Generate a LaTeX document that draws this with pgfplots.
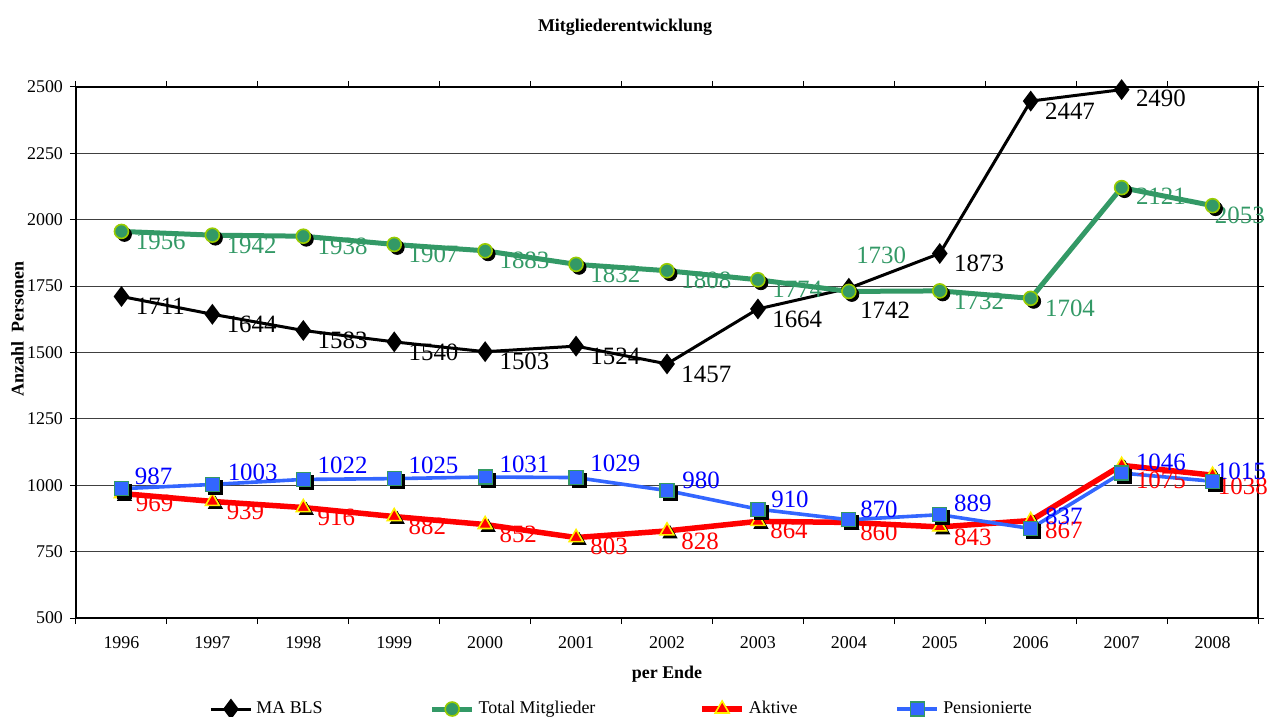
\documentclass[border=0pt]{standalone}
\usepackage{fontspec}
\setmainfont{Liberation Serif}
\usepackage{pgfplots}
\pgfplotsset{compat=1.18}
\definecolor{cgreen}{RGB}{51,153,102}
\definecolor{cyg}{RGB}{153,204,0}
\definecolor{cblue}{RGB}{51,102,255}
\definecolor{tblue}{RGB}{0,0,255}
\newcommand\lbl[6]{\node[anchor=west,text=#1,inner sep=0pt,xshift=#5,yshift=#6,font=\fontsize{12.5}{14}\selectfont] at (axis cs:#2,#3) {#4};}
\begin{document}
\begin{tikzpicture}
\useasboundingbox (-38bp,-49.5bp) rectangle (596bp,309bp);
\begin{axis}[
  at={(0,0)}, anchor=south west,
  scale only axis, width=591bp, height=265.5bp,
  xmin=-0.5, xmax=12.5, ymin=500, ymax=2500,
  xtick={-0.5,0.5,...,12.5},
  x tick label as interval,
  xticklabels={1996,1997,1998,1999,2000,2001,2002,2003,2004,2005,2006,2007,2008},
  ytick={500,750,...,2500},
  tick align=outside, major tick length=3bp,
  tick style={black, line width=0.5bp},
  ymajorgrids, grid style={black!75, line width=0.5bp},
  axis line style={black, line width=0.8bp},
  /pgf/number format/assume math mode=true,
  /pgf/number format/1000 sep={},
  tick label style={font=\fontsize{9}{10}\selectfont},
  xticklabel style={yshift=-3bp},
  title={\textbf{Mitgliederentwicklung}},
  title style={at={(0.4645,1)}, anchor=center, yshift=24bp, font=\fontsize{9}{10}\selectfont},
  xlabel={\textbf{per Ende}},
  xlabel style={at={(0.5,0)}, anchor=center, yshift=-28bp, font=\fontsize{9}{10}\selectfont},
  ylabel={\textbf{Anzahl\ \ Personen}},
  ylabel style={at={(-0.0495,0.544)}, anchor=center, font=\fontsize{9}{10}\selectfont},
  clip=false,
  legend columns=4,
  legend style={at={(0.4625,-0.1714)}, anchor=center, draw=none, fill=none,
    font=\fontsize{9}{10}\selectfont,
    /tikz/column 2/.style={column sep=51.5bp},
    /tikz/column 4/.style={column sep=50bp},
    /tikz/column 6/.style={column sep=47bp}},
  legend image code/.code={\draw[mark repeat=2,mark phase=2,#1] plot coordinates {(0bp,0bp) (10bp,0bp) (20bp,0bp)};},
]
% MA BLS
\addplot[black, line width=1.5bp, mark=diamond*, mark size=4bp, mark options={solid,fill=black}]
 coordinates {(0,1711)(1,1644)(2,1583)(3,1540)(4,1503)(5,1524)(6,1457)(7,1664)(8,1742)(9,1873)(10,2447)(11,2490)};
\addlegendentry{MA BLS}
% Total shadow
\addplot[forget plot, only marks, mark=*, mark size=3.5bp, mark options={black, fill=black, xshift=1.5bp, yshift=-1.5bp}]
 coordinates {(0,1956)(1,1942)(2,1938)(3,1907)(4,1883)(5,1832)(6,1808)(7,1774)(8,1730)(9,1732)(10,1704)(11,2121)(12,2053)};
\addplot[cgreen, line width=2.5bp, mark=*, mark size=3.5bp, mark options={draw=cyg, fill=cgreen, line width=0.8bp}]
 coordinates {(0,1956)(1,1942)(2,1938)(3,1907)(4,1883)(5,1832)(6,1808)(7,1774)(8,1730)(9,1732)(10,1704)(11,2121)(12,2053)};
\addlegendentry{Total Mitglieder}
% Aktive shadow
\addplot[forget plot, only marks, mark=triangle*, mark size=4bp, mark options={black, fill=black, xshift=1.5bp, yshift=-1.5bp}]
 coordinates {(0,969)(1,939)(2,916)(3,882)(4,852)(5,803)(6,828)(7,864)(8,860)(9,843)(10,867)(11,1075)(12,1038)};
\addplot[red, line width=2.75bp, mark=triangle*, mark size=4bp, mark options={draw=yellow, fill=red, line width=0.8bp}]
 coordinates {(0,969)(1,939)(2,916)(3,882)(4,852)(5,803)(6,828)(7,864)(8,860)(9,843)(10,867)(11,1075)(12,1038)};
\addlegendentry{Aktive}
% Pensionierte shadow
\addplot[forget plot, only marks, mark=square*, mark size=3.5bp, mark options={black, fill=black, xshift=1.5bp, yshift=-1.5bp}]
 coordinates {(0,987)(1,1003)(2,1022)(3,1025)(4,1031)(5,1029)(6,980)(7,910)(8,870)(9,889)(10,837)(11,1046)(12,1015)};
\addplot[cblue, line width=1.8bp, mark=square*, mark size=3.5bp, mark options={draw=cgreen, fill=cblue, line width=0.6bp}]
 coordinates {(0,987)(1,1003)(2,1022)(3,1025)(4,1031)(5,1029)(6,980)(7,910)(8,870)(9,889)(10,837)(11,1046)(12,1015)};
\addlegendentry{Pensionierte}
% labels MA BLS
\lbl{black}{0}{1711}{1711}{7bp}{-5bp}
\lbl{black}{1}{1644}{1644}{7bp}{-5bp}
\lbl{black}{2}{1583}{1583}{7bp}{-5bp}
\lbl{black}{3}{1540}{1540}{7bp}{-5bp}
\lbl{black}{4}{1503}{1503}{7bp}{-5bp}
\lbl{black}{5}{1524}{1524}{7bp}{-5bp}
\lbl{black}{6}{1457}{1457}{7bp}{-5bp}
\lbl{black}{7}{1664}{1664}{7bp}{-5bp}
\lbl{black}{8}{1742}{1742}{5.5bp}{-11bp}
\lbl{black}{9}{1873}{1873}{7bp}{-5bp}
\lbl{black}{10}{2447}{2447}{7bp}{-5bp}
\lbl{black}{11}{2490}{2490}{7bp}{-4.5bp}
% labels Total
\lbl{cgreen}{0}{1956}{1956}{7bp}{-5bp}
\lbl{cgreen}{1}{1942}{1942}{7bp}{-5bp}
\lbl{cgreen}{2}{1938}{1938}{7bp}{-5bp}
\lbl{cgreen}{3}{1907}{1907}{7bp}{-5bp}
\lbl{cgreen}{4}{1883}{1883}{7bp}{-5bp}
\lbl{cgreen}{5}{1832}{1832}{7bp}{-5bp}
\lbl{cgreen}{6}{1808}{1808}{7bp}{-5bp}
\lbl{cgreen}{7}{1774}{1774}{7bp}{-5bp}
\lbl{cgreen}{8}{1730}{1730}{3.5bp}{18bp}
\lbl{cgreen}{9}{1732}{1732}{7bp}{-5bp}
\lbl{cgreen}{10}{1704}{1704}{7bp}{-5bp}
\lbl{cgreen}{11}{2121}{2121}{7bp}{-4.5bp}
\lbl{cgreen}{12}{2053}{2053}{1bp}{-5bp}
% labels Aktive
\lbl{red}{0}{969}{969}{7bp}{-5bp}
\lbl{red}{1}{939}{939}{7bp}{-5bp}
\lbl{red}{2}{916}{916}{7bp}{-5bp}
\lbl{red}{3}{882}{882}{7bp}{-5bp}
\lbl{red}{4}{852}{852}{7bp}{-5bp}
\lbl{red}{5}{803}{803}{7bp}{-4.5bp}
\lbl{red}{6}{828}{828}{7bp}{-5bp}
\lbl{red}{7}{864}{864}{6bp}{-4.5bp}
\lbl{red}{8}{860}{860}{5.5bp}{-5bp}
\lbl{red}{9}{843}{843}{7bp}{-5bp}
\lbl{red}{10}{867}{867}{7bp}{-4.75bp}
\lbl{red}{11}{1075}{1075}{7bp}{-7.5bp}
\lbl{red}{12}{1038}{1038}{2.5bp}{-5.5bp}
% labels Pensionierte
\lbl{tblue}{0}{987}{987}{6.5bp}{6bp}
\lbl{tblue}{1}{1003}{1003}{7.5bp}{6bp}
\lbl{tblue}{2}{1022}{1022}{7bp}{7bp}
\lbl{tblue}{3}{1025}{1025}{7bp}{6.5bp}
\lbl{tblue}{4}{1031}{1031}{7bp}{6.5bp}
\lbl{tblue}{5}{1029}{1029}{7bp}{7bp}
\lbl{tblue}{6}{980}{980}{7.5bp}{5bp}
\lbl{tblue}{7}{910}{910}{6.5bp}{5bp}
\lbl{tblue}{8}{870}{870}{5.5bp}{5bp}
\lbl{tblue}{9}{889}{889}{7bp}{5.5bp}
\lbl{tblue}{10}{837}{837}{7bp}{6bp}
\lbl{tblue}{11}{1046}{1046}{7bp}{5.5bp}
\lbl{tblue}{12}{1015}{1015}{1.5bp}{5bp}
\end{axis}
\end{tikzpicture}
\end{document}
